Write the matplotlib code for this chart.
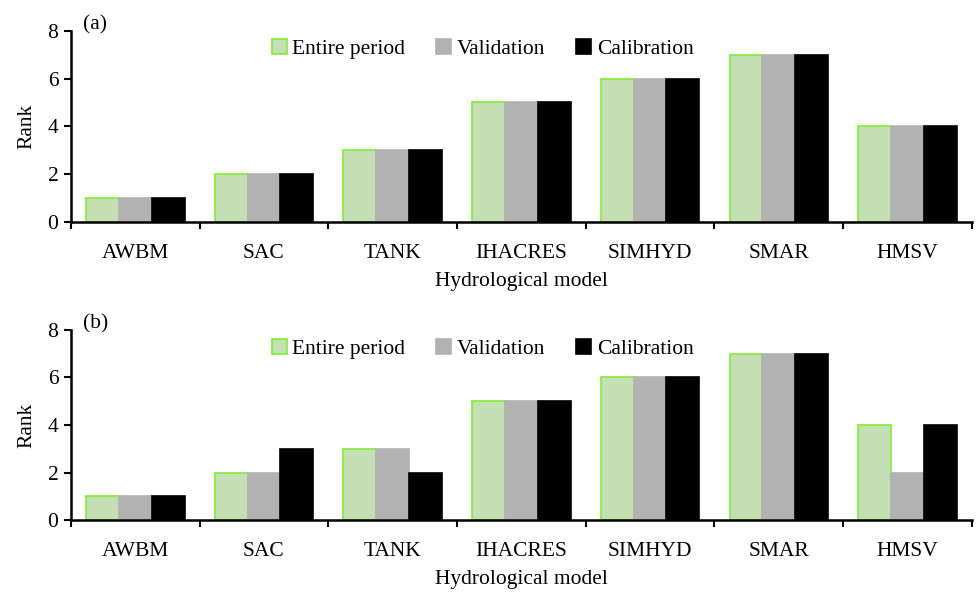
import matplotlib
matplotlib.use("Agg")
import matplotlib.pyplot as plt
import numpy as np

models = ["AWBM", "SAC", "TANK", "IHACRES", "SIMHYD", "SMAR", "HMSV"]
series_names = ["Entire period", "Validation", "Calibration"]
a_entire = [1, 2, 3, 5, 6, 7, 4]
a_valid = [1, 2, 3, 5, 6, 7, 4]
a_calib = [1, 2, 3, 5, 6, 7, 4]
b_entire = [1, 2, 3, 5, 6, 7, 4]
b_valid = [1, 2, 3, 5, 6, 7, 2]
b_calib = [1, 3, 2, 5, 6, 7, 4]
yticks = [0, 2, 4, 6, 8]

plt.rcParams['font.family'] = ['Liberation Serif', 'DejaVu Serif']
fig = plt.figure(figsize=(9.76, 5.92), dpi=100)

fills = ["#c5dfb5", "#b2b2b2", "#000000"]
edges = ["#80ee30", "#b2b2b2", "#000000"]
FS = 15.5

def panel(rect, data, label):
    ax = fig.add_axes(rect)
    x = np.arange(len(models))
    w = 0.255
    for i, (vals, name) in enumerate(zip(data, series_names)):
        ax.bar(x + (i - 1) * w, vals, w, color=fills[i], edgecolor=edges[i],
               linewidth=1.2, label=name, zorder=2)
    ax.set_xlim(-0.5, len(models) - 0.5)
    ax.set_ylim(0, 8)
    ax.set_yticks(yticks)
    ax.set_xticks(np.arange(len(models) + 1) - 0.5)
    ax.set_xticklabels([])
    ax.set_xticks(x, minor=True)
    ax.set_xticklabels(models, minor=True, fontsize=FS)
    ax.tick_params(axis='x', which='minor', length=0, pad=16)
    ax.tick_params(axis='x', which='major', length=5, width=1.5, direction='out')
    ax.tick_params(axis='y', length=5, width=1.5, labelsize=FS, pad=4)
    for s in ['top', 'right']:
        ax.spines[s].set_visible(False)
    for s in ['left', 'bottom']:
        ax.spines[s].set_linewidth(1.8)
    ax.set_xlabel("Hydrological model", fontsize=FS, labelpad=6)
    ax.set_ylabel("Rank", fontsize=FS, labelpad=8)
    ax.text(0.013, 1.03, label, transform=ax.transAxes, fontsize=FS, ha='left', va='center')
    ax.legend(loc='upper center', bbox_to_anchor=(0.457, 1.0), ncol=3, frameon=False,
              fontsize=FS, handlelength=0.7, handleheight=0.7, handletextpad=0.25,
              columnspacing=1.45, borderaxespad=0.0)
    return ax

panel([0.0727, 0.625, 0.923, 0.323], [a_entire, a_valid, a_calib], "(a)")
panel([0.0727, 0.1216, 0.923, 0.321], [b_entire, b_valid, b_calib], "(b)")

fig.savefig("out.png", dpi=100)
